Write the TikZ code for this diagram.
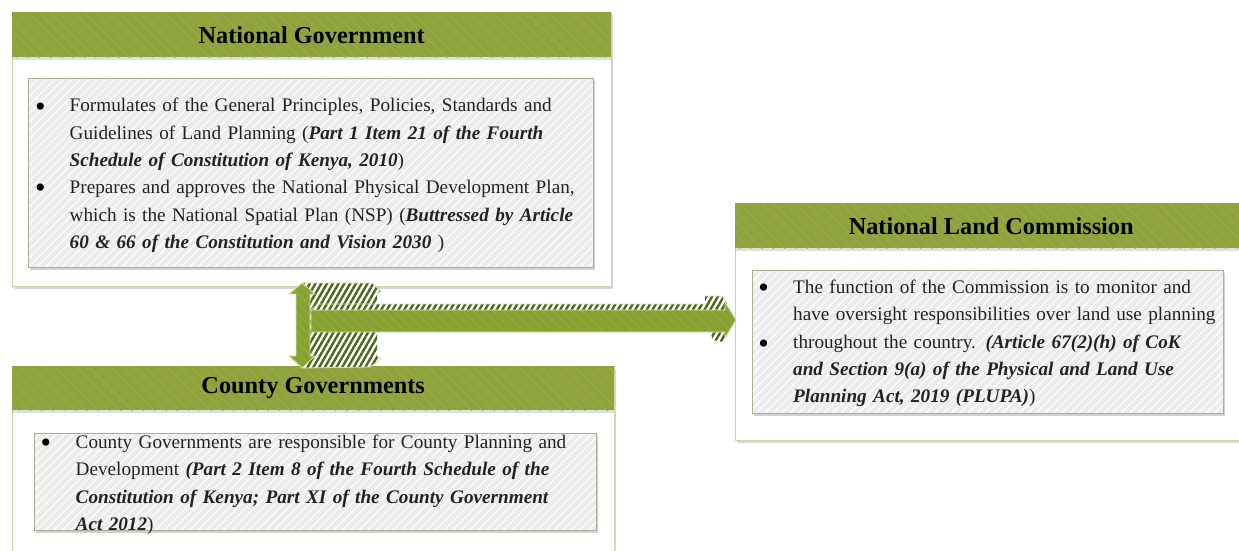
\documentclass[tikz,border=0pt]{standalone}
\usepackage{fontspec}
\setmainfont{Liberation Serif}
\usetikzlibrary{patterns.meta,shadows}
\definecolor{hdr}{HTML}{8FA33D}
\definecolor{hdrlt}{HTML}{9AAD4D}
\definecolor{obord}{HTML}{C6D89F}
\definecolor{ibord}{HTML}{A8AF92}
\definecolor{ifill}{HTML}{ECECEC}
\definecolor{arrg}{HTML}{88A232}
\definecolor{arrln}{HTML}{D4E2AE}
\definecolor{arrdk}{HTML}{4E651E}
\definecolor{txtc}{HTML}{222222}
\tikzset{
  outerbox/.style={draw=obord, line width=1.3pt, fill=white, anchor=north west, inner sep=0pt,
    drop shadow={shadow xshift=1pt, shadow yshift=-2.5pt, opacity=0.3}},
  hdrbar/.style={fill=hdr, anchor=north west, inner sep=0pt, text=black,
    font=\fontsize{24.3}{26}\selectfont\bfseries,
    postaction={pattern={Lines[angle=-45,distance=8pt,line width=0.8pt]}, pattern color=hdrlt},
    drop shadow={shadow xshift=0pt, shadow yshift=-2.5pt, opacity=0.25}},
  innerbox/.style={fill=ifill, anchor=north west, inner sep=0pt,
    postaction={pattern={Lines[angle=45,distance=6pt,line width=1.2pt]}, pattern color=white},
    postaction={draw=ibord, line width=1.2pt},
    drop shadow={shadow xshift=1.5pt, shadow yshift=-2.5pt, opacity=0.35}},
  bodytxt/.style={anchor=north west, inner sep=0pt, align=left, text width=600pt, text=txtc,
    font=\fontsize{19.2}{27.3}\selectfont},
  bul/.style={anchor=center, inner sep=0pt, text=black, font=\fontsize{30}{30}\selectfont},
  hatchface/.style={fill=white, postaction={pattern={Lines[angle=60,distance=5pt,line width=2.4pt]}, pattern color=arrdk}},
  greenface/.style={fill=arrg,
    postaction={pattern={Lines[angle=-45,distance=7pt,line width=0.6pt]}, pattern color=hdrlt},
    postaction={draw=arrln, line width=0.8pt}},
  edgeln/.style={draw=arrln, line width=0.8pt}
}
\newcommand{\bi}[1]{\textbf{\textit{#1}}}
\begin{document}
\begin{tikzpicture}[x=1pt,y=-1pt]
\useasboundingbox (0,0) rectangle (1239,550);
\fill[white] (0,0) rectangle (1239,550);

% National Government
\node[outerbox, minimum width=599, minimum height=274] (ng) at (12,12) {};
\node[hdrbar, minimum width=599, minimum height=45] (nghd) at (ng.north west) {National Government};
\node[innerbox, minimum width=565, minimum height=189] (ngin) at (28,78) {};
\node[bul] (ngb1) at (40.5,109.5) {•};
\node[bul] (ngb2) at (40.5,191) {•};
\node[bodytxt] (ngtx) at (69.5,92.6) {\strut Formulates of the General Principles, Policies, Standards and\\
Guidelines of Land Planning (\bi{Part 1 Item 21 of the Fourth}\\
\bi{Schedule of Constitution of Kenya, 2010})\\
Prepares and approves the National Physical Development Plan,\\
which is the National Spatial Plan (NSP) (\bi{Buttressed by Article}\\
\bi{60 \& 66 of the Constitution and Vision 2030} )};

% County Governments
\node[outerbox, minimum width=602, minimum height=200] (cg) at (12,366) {};
\node[hdrbar, minimum width=602, minimum height=44] (cghd) at (cg.north west) {County Governments};
\node[innerbox, minimum width=562, minimum height=97] (cgin) at (34,433) {};
\node[bul] (cgb1) at (46,446) {•};
\node[bodytxt] (cgtx) at (75.5,429.2) {\strut County Governments are responsible for County Planning and\\
Development \bi{(Part 2 Item 8 of the Fourth Schedule of the}\\
\bi{Constitution of Kenya; Part XI of the County Government}\\
\bi{Act 2012})};

% National Land Commission
\node[outerbox, minimum width=512, minimum height=237] (nlc) at (735,203) {};
\node[hdrbar, minimum width=512, minimum height=45] (nlchd) at (nlc.north west) {National Land Commission};
\node[innerbox, minimum width=471, minimum height=143] (nlcin) at (752,270) {};
\node[bul] (nlcb1) at (763.5,291) {•};
\node[bul] (nlcb2) at (763.5,346.5) {•};
\node[bodytxt] (nlctx) at (793,274.2) {\strut The function of the Commission is to monitor and\\
have oversight responsibilities over land use planning\\
throughout the country. \bi{(Article 67(2)(h) of CoK}\\
\bi{and Section 9(a) of the Physical and Land Use}\\
\bi{Planning Act, 2019 (PLUPA)})};

% vertical double arrow (3D) between national and county governments
\path[hatchface] (302,283) -- (372,283) -- (381,291) -- (377,294) -- (377,356) -- (381,359) -- (370,367) -- (302,368) -- cycle;
\path[edgeln] (302,283) -- (372,283) -- (381,291) -- (377,294) (377,356) -- (381,359) -- (370,367) -- (302,368);
\path[greenface] (302,283) -- (315,294) -- (310,294) -- (310,356) -- (315,356) -- (302,368)
  -- (289,356) -- (296,356) -- (296,294) -- (289,294) -- cycle;

% horizontal arrow (3D) to the National Land Commission
\path[hatchface] (311,310) -- (318,304) -- (706,304) -- (706,310) -- cycle;
\path[hatchface] (705,296) -- (722,296) -- (727,303) -- (725,310) -- (705,310) -- cycle;
\path[hatchface] (710,332) -- (727,332) -- (727,337) -- (723,342) -- (713,340) -- cycle;
\path[edgeln] (311,310) -- (318,304) -- (706,304) (705,296) -- (722,296) -- (727,303);
\path[greenface] (311,310) -- (725,310) -- (725,302) -- (736,320) -- (725,338) -- (725,332) -- (311,332) -- cycle;
\end{tikzpicture}
\end{document}
